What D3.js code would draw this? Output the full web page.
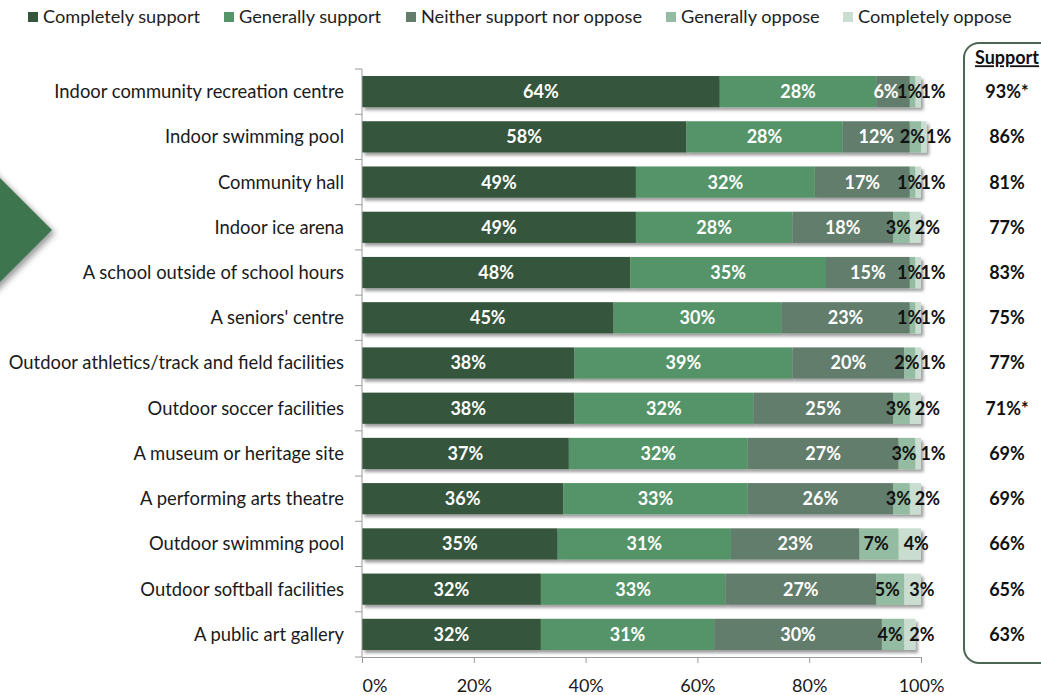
<!DOCTYPE html>
<html>
<head>
<meta charset="utf-8">
<script src="https://cdn.jsdelivr.net/npm/d3@7"></script>
<style>
  html, body { margin: 0; padding: 0; background: #ffffff; }
  svg { display: block; font-family: Lato, "Open Sans", sans-serif; }
</style>
</head>
<body>
<svg id="chart" width="1041" height="695"></svg>
<script>
// Facility categories, top to bottom
const categories = [
  "Indoor community recreation centre",
  "Indoor swimming pool",
  "Community hall",
  "Indoor ice arena",
  "A school outside of school hours",
  "A seniors' centre",
  "Outdoor athletics/track and field facilities",
  "Outdoor soccer facilities",
  "A museum or heritage site",
  "A performing arts theatre",
  "Outdoor swimming pool",
  "Outdoor softball facilities",
  "A public art gallery"
];

// Response shares (%) per category
const completelySupport       = [64, 58, 49, 49, 48, 45, 38, 38, 37, 36, 35, 32, 32];
const generallySupport        = [28, 28, 32, 28, 35, 30, 39, 32, 32, 33, 31, 33, 31];
const neitherSupportNorOppose = [6, 12, 17, 18, 15, 23, 20, 25, 27, 26, 23, 27, 30];
const generallyOppose         = [1, 2, 1, 3, 1, 1, 2, 3, 3, 3, 7, 5, 4];
const completelyOppose        = [1, 1, 1, 2, 1, 1, 1, 2, 1, 2, 4, 3, 2];

// Net support column
const supportTotals = [93, 86, 81, 77, 83, 75, 77, 71, 69, 69, 66, 65, 63];
const supportNotes  = ["*", "", "", "", "", "", "", "*", "", "", "", "", ""];

const seriesNames = ["Completely support", "Generally support", "Neither support nor oppose",
                     "Generally oppose", "Completely oppose"];
const seriesColors = ["#36553d", "#559468", "#627d6c", "#93bca2", "#c9ddd1"];
const xTickValues = [0, 20, 40, 60, 80, 100];

const seriesValues = [completelySupport, generallySupport, neitherSupportNorOppose,
                      generallyOppose, completelyOppose];

const rows = categories.map((c, i) => {
  const r = { category: c };
  seriesNames.forEach((s, k) => { r[s] = seriesValues[k][i]; });
  return r;
});

const svg = d3.select("#chart");
const defs = svg.append("defs");

defs.append("filter").attr("id", "barShadow")
  .attr("x", "-5%").attr("y", "-20%").attr("width", "115%").attr("height", "160%")
  .append("feDropShadow")
  .attr("dx", 2.5).attr("dy", 3).attr("stdDeviation", 1.6)
  .attr("flood-color", "#000").attr("flood-opacity", 0.38);

defs.append("filter").attr("id", "arrowShadow")
  .attr("x", "-50%").attr("y", "-50%").attr("width", "200%").attr("height", "200%")
  .append("feDropShadow")
  .attr("dx", 3).attr("dy", 3).attr("stdDeviation", 3)
  .attr("flood-color", "#000").attr("flood-opacity", 0.4);

// Decorative chevron on the left edge
svg.append("polygon")
  .attr("points", "-20,158 52,230 -20,302")
  .attr("fill", "#3e7450")
  .attr("filter", "url(#arrowShadow)");

const x = d3.scaleLinear().domain([0, 100]).range([362, 921]);
const y = d3.scaleBand().domain(categories).range([69, 657]).paddingInner(0.31).paddingOuter(0.155);

const stacked = d3.stack().keys(seriesNames)(rows);

// Legend
const legendX = [28, 224, 406, 666, 843];
const legend = svg.append("g").attr("class", "legend");
seriesNames.forEach((s, k) => {
  const g = legend.append("g").attr("transform", `translate(${legendX[k]},0)`);
  g.append("rect").attr("x", 0).attr("y", 12).attr("width", 10).attr("height", 10)
    .attr("fill", seriesColors[k]);
  g.append("text").attr("x", 15).attr("y", 17).attr("dy", "0.35em")
    .attr("font-size", 18.2).attr("fill", "#222").text(s);
});

// Bars: one group per category so the shadow wraps the whole bar
const barGroups = svg.append("g").selectAll("g.row")
  .data(categories)
  .join("g").attr("class", "row")
  .attr("filter", "url(#barShadow)");

barGroups.each(function(cat, i) {
  const g = d3.select(this);
  stacked.forEach((layer, k) => {
    const d = layer[i];
    g.append("rect")
      .attr("x", x(d[0]))
      .attr("y", y(cat))
      .attr("width", x(d[1]) - x(d[0]))
      .attr("height", y.bandwidth())
      .attr("fill", seriesColors[k]);
  });
});

// Segment value labels
const labels = svg.append("g").attr("class", "values")
  .attr("font-weight", "bold").attr("font-size", 18);

categories.forEach((cat, i) => {
  const cy = y(cat) + y.bandwidth() / 2;
  stacked.forEach((layer, k) => {
    const d = layer[i];
    const v = d[1] - d[0];
    const t = labels.append("text")
      .attr("y", cy).attr("dy", "0.36em")
      .attr("fill", k < 3 ? "#ffffff" : "#111111")
      .text(v + "%");
    const mid = (x(d[0]) + x(d[1])) / 2;
    if (k === 4) {
      // last segment: label starts just inside the segment
      t.attr("text-anchor", "start").attr("x", x(d[0]) + 5);
    } else if (k === 3) {
      t.attr("text-anchor", "middle").attr("x", mid - 3);
    } else if (k === 2) {
      // keep the label clear of the narrow oppose labels that follow
      const w = t.node().getComputedTextLength();
      const nextMid = (x(stacked[3][i][0]) + x(stacked[3][i][1])) / 2 - 3;
      const limit = nextMid - 11 - w / 2;
      t.attr("text-anchor", "middle").attr("x", Math.min(mid, limit));
    } else {
      t.attr("text-anchor", "middle").attr("x", mid);
    }
  });
});

// Y axis (category labels)
const yAxis = svg.append("g").attr("transform", "translate(362,0)");
yAxis.append("line").attr("x1", 0).attr("x2", 0).attr("y1", 69).attr("y2", 657)
  .attr("stroke", "#9a9a9a");
const boundaries = d3.range(categories.length + 1).map(i => 69 + i * y.step());
yAxis.selectAll("line.tick").data(boundaries).join("line").attr("class", "tick")
  .attr("x1", -7).attr("x2", 0).attr("y1", d => d).attr("y2", d => d)
  .attr("stroke", "#9a9a9a");
svg.append("g").selectAll("text.cat").data(categories).join("text").attr("class", "cat")
  .attr("x", 344).attr("y", d => y(d) + y.bandwidth() / 2).attr("dy", "0.35em")
  .attr("text-anchor", "end").attr("font-size", 18.4).attr("fill", "#1a1a1a")
  .text(d => d);

// X axis
const xAxis = svg.append("g").attr("transform", "translate(0,657)")
  .call(d3.axisBottom(x).tickValues(xTickValues).tickFormat(d => d + "%").tickSize(6).tickSizeOuter(0));
xAxis.select(".domain").attr("stroke", "#9a9a9a");
xAxis.selectAll(".tick line").attr("stroke", "#9a9a9a");
xAxis.selectAll(".tick text")
  .attr("font-family", "Lato, sans-serif").attr("font-size", 18).attr("fill", "#1a1a1a")
  .attr("y", 22);
xAxis.selectAll(".tick").filter(d => d === 0).select("text").attr("text-anchor", "start");

// Support box
svg.append("rect")
  .attr("x", 964).attr("y", 43).attr("width", 110).attr("height", 620)
  .attr("rx", 15).attr("ry", 15)
  .attr("fill", "none").attr("stroke", "#4c6654").attr("stroke-width", 2);

svg.append("text").attr("x", 1007).attr("y", 58).attr("dy", "0.35em")
  .attr("text-anchor", "middle").attr("font-weight", "bold").attr("font-size", 18)
  .attr("text-decoration", "underline").attr("fill", "#111").text("Support");

svg.append("g").selectAll("text.support").data(categories).join("text").attr("class", "support")
  .attr("x", 1007).attr("y", d => y(d) + y.bandwidth() / 2).attr("dy", "0.36em")
  .attr("text-anchor", "middle").attr("font-weight", "bold").attr("font-size", 18)
  .attr("fill", "#111")
  .text((d, i) => supportTotals[i] + "%" + supportNotes[i]);
</script>
</body>
</html>
